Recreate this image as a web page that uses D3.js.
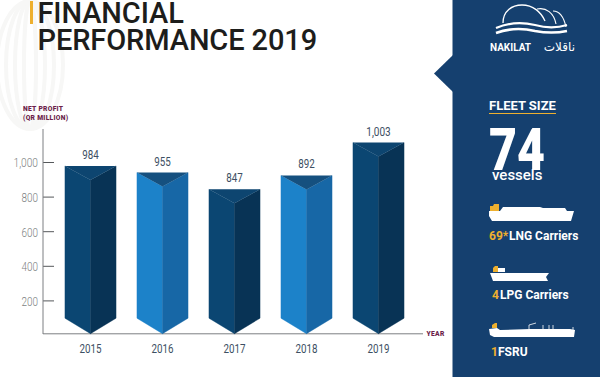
<!DOCTYPE html>
<html>
<head>
<meta charset="utf-8">
<script src="https://cdn.jsdelivr.net/npm/d3@7"></script>
<style>
  html, body { margin: 0; padding: 0; background: #fff; }
  text { font-family: Roboto, sans-serif; }
</style>
</head>
<body>
<div id="chart"></div>
<script>
// Chart Data
const years = ["2015", "2016", "2017", "2018", "2019"];
const profitLabels = ["984", "955", "847", "892", "1,003"];
// Bar heights read against the axis (the artwork is not drawn to the printed figures)
const barLevels = [980, 942, 845, 925, 1115];
const barTones = ["dark", "light", "dark", "light", "dark"];
const yTicks = [200, 400, 600, 800, 1000];

// Initialise Dimensions
const w = 600, h = 377;
const svg = d3.select("#chart").append("svg").attr("width", w).attr("height", h).style("display", "block");

// Setup Colours
const tones = {
  dark: { left: "#0b4672", right: "#083355", top: "#0d4570" },
  light: { left: "#1c82c9", right: "#1767a6", top: "#15507f" }
};
const navy = "#15406f", gold = "#eeb02f", plum = "#6d1f4b", grey = "#7c7f82", slate = "#3d4f63";

// Squeeze Roboto Digits To The Narrow Width Of The Original Lettering
const narrowWidth = (s) => s.replace(",", "").length * 5.5 + (s.includes(",") ? 2.5 : 0);

// Faint Watermark Behind Title
const mark = svg.append("g").attr("fill", "none").attr("stroke", "#f7f7f6").attr("stroke-width", 4);
[33, 24, 15, 6].forEach((rx) => {
  mark.append("ellipse").attr("cx", 30).attr("cy", 65).attr("rx", rx).attr("ry", 64);
});

// Title
svg.append("rect").attr("x", 30).attr("y", 1).attr("width", 3).attr("height", 23).attr("fill", gold);
const title = svg.append("g").attr("fill", "#1d1d1b").attr("font-size", 29).attr("font-weight", 500).attr("letter-spacing", -0.1);
title.append("text").attr("x", 37.5).attr("y", 22.5).text("FINANCIAL");
title.append("text").attr("x", 37.5).attr("y", 49.5).text("PERFORMANCE 2019");

// Setup Scales
const xScale = d3.scaleBand().domain(years).range([54.5, 414.5]).paddingInner(0.29).paddingOuter(0.145);
const yScale = d3.scaleLinear().domain([0, 1000]).range([335.5, 162.5]);
const barWidth = xScale.bandwidth();

// Axis Y
const yAxis = svg.append("g").attr("transform", "translate(38, 0)")
  .call(d3.axisLeft(yScale).tickValues(yTicks).tickSize(0).tickPadding(0).tickFormat(d3.format(",")));
yAxis.select(".domain").remove();
yAxis.selectAll("text").attr("font-size", 13.5).attr("fill", grey).attr("font-family", "Roboto, sans-serif").attr("font-weight", 300)
  .attr("lengthAdjust", "spacingAndGlyphs").attr("textLength", (d) => narrowWidth(d3.format(",")(d)));
svg.selectAll(".ytick").data(yTicks).enter().append("line").attr("class", "ytick")
  .attr("x1", 43).attr("x2", 54).attr("y1", (d) => yScale(d)).attr("y2", (d) => yScale(d))
  .attr("stroke", "#55585b").attr("stroke-width", 1);

// Axis Lines
svg.append("line").attr("x1", 43).attr("x2", 43).attr("y1", 129).attr("y2", 334).attr("stroke", grey).attr("stroke-width", 1);
svg.append("line").attr("x1", 43).attr("x2", 423).attr("y1", 333.8).attr("y2", 333.8).attr("stroke", grey).attr("stroke-width", 1);

// Axis Labels
const axisLabel = svg.append("g").attr("fill", plum).attr("font-size", 6.7).attr("font-weight", 900).attr("letter-spacing", 0.3);
axisLabel.append("text").attr("x", 23).attr("y", 111).text("NET PROFIT");
axisLabel.append("text").attr("x", 23).attr("y", 120).text("(QR MILLION)");
axisLabel.append("text").attr("x", 426.5).attr("y", 336).text("YEAR");

// Draw Bars As Prisms
const bars = svg.selectAll(".bar").data(years).enter().append("g").attr("class", "bar");
const notch = 14, tipRise = 15.5, tipY = yScale(0) - 1.8;
const sidePath = (x0, cx, top) => "M" + x0 + "," + top + "L" + cx + "," + (top + notch) + "L" + cx + "," + tipY + "L" + x0 + "," + (tipY - tipRise) + "Z";

bars.append("path").attr("fill", (d, i) => tones[barTones[i]].left).attr("stroke", (d, i) => tones[barTones[i]].left).attr("stroke-width", 0.4)
  .attr("d", (d, i) => sidePath(xScale(d), xScale(d) + barWidth / 2, yScale(barLevels[i])));
bars.append("path").attr("fill", (d, i) => tones[barTones[i]].right).attr("stroke", (d, i) => tones[barTones[i]].right).attr("stroke-width", 0.4)
  .attr("d", (d, i) => sidePath(xScale(d) + barWidth, xScale(d) + barWidth / 2, yScale(barLevels[i])));
bars.append("path").attr("fill", (d, i) => tones[barTones[i]].top)
  .attr("d", (d, i) => {
    let top = yScale(barLevels[i]);
    return "M" + xScale(d) + "," + top + "L" + (xScale(d) + barWidth) + "," + top + "L" + (xScale(d) + barWidth / 2) + "," + (top + notch) + "Z";
  });

// Value Labels
bars.append("text").attr("text-anchor", "middle").attr("font-size", 13.5).attr("fill", slate)
  .attr("lengthAdjust", "spacingAndGlyphs").attr("textLength", (d, i) => narrowWidth(profitLabels[i]))
  .attr("x", (d) => xScale(d) + barWidth / 2)
  .attr("y", (d, i) => yScale(barLevels[i]) - 7)
  .text((d, i) => profitLabels[i]);

// Year Labels
bars.append("text").attr("text-anchor", "middle").attr("font-size", 13.5).attr("fill", slate)
  .attr("lengthAdjust", "spacingAndGlyphs").attr("textLength", (d) => narrowWidth(d))
  .attr("x", (d) => xScale(d) + barWidth / 2).attr("y", 352.5).text((d) => d);

// Side Panel
svg.append("rect").attr("x", 452.5).attr("y", 0).attr("width", 147.5).attr("height", h).attr("fill", navy);
svg.append("path").attr("d", "M453,55L434,73.5L453,92Z").attr("fill", navy);

// Logo
const logo = svg.append("g").attr("fill", "none").attr("stroke", "#fff");
logo.append("path").attr("stroke-width", 1.3).attr("d", "M503,23C503,11 512,5 522,5C533,5 541,12 545,21");
logo.append("path").attr("stroke-width", 1.1).attr("d", "M537,9C546,7 554,13 556,24");
logo.append("path").attr("stroke-width", 1.1).attr("d", "M553,11C560,11 564,18 566,27");
logo.append("path").attr("stroke-width", 2.2).attr("d", "M496,28C510,22 522,22 535,25C546,28 557,28 567,25");
logo.append("path").attr("stroke-width", 2.6).attr("d", "M496,33C510,28 522,28 535,31C546,33 557,33 567,31");
svg.append("text").attr("x", 490).attr("y", 50.5).attr("font-size", 10).attr("font-weight", 700).attr("fill", "#fff").text("NAKILAT");
svg.append("text").attr("x", 575).attr("y", 50.5).attr("text-anchor", "end").attr("font-size", 12).attr("fill", "#fff")
  .style("font-family", "'DejaVu Sans'").text("ناقلات");

// Fleet Heading
svg.append("text").attr("x", 489).attr("y", 109.5).attr("font-size", 13).attr("font-weight", 700).attr("fill", "#fff").text("FLEET SIZE");
svg.append("line").attr("x1", 489).attr("x2", 556).attr("y1", 113.5).attr("y2", 113.5).attr("stroke", gold).attr("stroke-width", 1);
svg.append("text").attr("x", 489).attr("y", 170).attr("font-size", 60).attr("font-weight", 900).attr("fill", "#fff")
  .attr("lengthAdjust", "spacingAndGlyphs").attr("textLength", 56).text("74");
svg.append("text").attr("x", 492).attr("y", 179.5).attr("font-size", 15).attr("font-weight", 500).attr("fill", "#fff").text("vessels");

// Ship Silhouettes
const ships = svg.append("g");
ships.append("path").attr("fill", "#fff").attr("d", "M489,211L500,211L503,207L540,207L543,208L565,208L567,211L574,211L571,221L492,221L489,216Z");
ships.append("path").attr("fill", gold).attr("d", "M490,211L490,206L493,206L494,204L499,204L499,211Z");
ships.append("path").attr("fill", "#fff").attr("d", "M498,268L505,268L505,272L498,272Z M490,273L549,273L546,277L548,281L493,281Z");
ships.append("path").attr("fill", gold).attr("d", "M493,272L493,268L495,266L498,266L498,272Z");
ships.append("path").attr("fill", "#fff").attr("d", "M489,329L497,328L500,330L530,329L545,329L570,329L575,330L574,337L494,337L490,335Z");
ships.append("path").attr("fill", gold).attr("d", "M492,328L492,325L495,323L497,323L497,328Z");
ships.append("path").attr("fill", "none").attr("stroke", "#fff").attr("stroke-width", 0.8).attr("d", "M529,329L529,325L536,323M543,329L543,325M549,329L549,325M553,329L553,325M573,330L573,327");

// Fleet Labels
const fleetLabels = svg.append("g").attr("font-size", 12).attr("font-weight", 700);
fleetLabels.append("text").attr("x", 489).attr("y", 240).attr("fill", gold).text("69*");
fleetLabels.append("text").attr("x", 509).attr("y", 240).attr("fill", "#fff").text("LNG Carriers");
fleetLabels.append("text").attr("x", 492).attr("y", 299).attr("fill", gold).text("4");
fleetLabels.append("text").attr("x", 500).attr("y", 299).attr("fill", "#fff").text("LPG Carriers");
fleetLabels.append("text").attr("x", 491).attr("y", 356).attr("fill", gold).text("1");
fleetLabels.append("text").attr("x", 498).attr("y", 356).attr("fill", "#fff").text("FSRU");
</script>
</body>
</html>
